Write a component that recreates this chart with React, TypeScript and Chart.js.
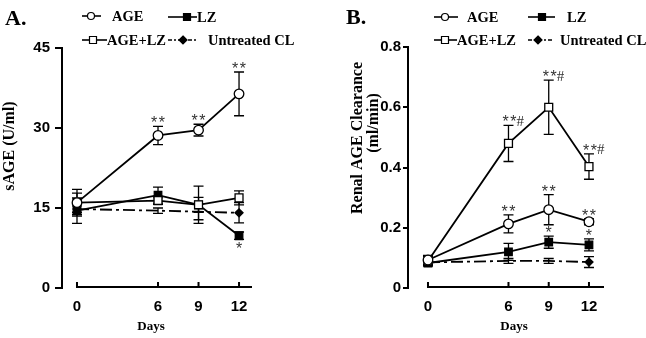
import React, { useEffect, useRef } from "react";
import { Chart, registerables } from "chart.js";

Chart.register(...registerables);

// ---------------- data ----------------
const days = [0, 6, 9, 12];
const xTicks = [0, 6, 9, 12];

// Panel A: sAGE (U/ml)
const aTicks = [0, 15, 30, 45];
const aAge = [16.0, 28.6, 29.6, 36.4];
const aAgeErr = [2.5, 1.7, 1.1, 4.1];
const aLz = [14.5, 17.4, 15.6, 9.8];
const aLzErr = [2.4, 1.5, 1.4, 0.7];
const aAgeLz = [16.0, 16.4, 15.6, 16.9];
const aAgeLzErr = [1.8, 0.7, 3.5, 1.3];
const aCtrl = [14.8, 14.5, 14.3, 14.1];
const aCtrlErr = [1.0, 0.5, 1.5, 1.9];
const aAgeMarks = ["", "**", "**", "**"];
const aLzMarks = ["", "", "", "*"];

// Panel B: Renal AGE Clearance (ml/min)
const bTicks = [0, 0.2, 0.4, 0.6, 0.8];
const bAge = [0.093, 0.213, 0.26, 0.22];
const bAgeErr = [0.015, 0.03, 0.05, 0.01];
const bLz = [0.083, 0.12, 0.152, 0.143];
const bLzErr = [0.01, 0.028, 0.02, 0.02];
const bAgeLz = [0.09, 0.48, 0.6, 0.403];
const bAgeLzErr = [0.015, 0.06, 0.09, 0.042];
const bCtrl = [0.085, 0.09, 0.09, 0.086];
const bCtrlErr = [0.01, 0.008, 0.008, 0.018];
const bAgeLzMarks = ["", "**#", "**#", "**#"];
const bAgeMarks = ["", "**", "**", "**"];
const bLzMarks = ["", "", "*", "*"];

// ---------------- styles ----------------
const W = 323;
const H = 338;
const SERIF = '"Liberation Serif", "Times New Roman", serif';
const SANS = '"Liberation Sans", Arial, sans-serif';

const STYLE: Record<string, any> = {
  "AGE": { pointStyle: "circle", radius: 4.8, fill: "#fff", dash: [], legendDash: [] },
  "LZ": { pointStyle: "rect", radius: 5.3, fill: "#000", dash: [], legendDash: [] },
  "AGE+LZ": { pointStyle: "rect", radius: 5.6, fill: "#fff", dash: [], legendDash: [] },
  "Untreated CL": { pointStyle: "rectRot", radius: 4, fill: "#000", dash: [12, 4, 3, 4], legendDash: [4, 2, 2, 2] },
};

function makeDataset(name: string, values: number[], errs: number[], above?: string[], below?: string[], radii?: number[]) {
  const st = STYLE[name];
  return {
    label: name,
    data: days.map((d, i) => ({ x: d, y: values[i] })),
    errors: errs,
    marksAbove: above,
    marksBelow: below,
    borderColor: "#000",
    borderWidth: 1.8,
    borderDash: st.dash,
    pointStyle: st.pointStyle,
    pointRadius: radii || st.radius,
    pointBackgroundColor: st.fill,
    pointBorderColor: "#000",
    pointBorderWidth: 1.3,
    tension: 0,
    fill: false,
    clip: false,
  };
}

function drawMarker(ctx: CanvasRenderingContext2D, style: string, x: number, y: number, r: number, fill: string) {
  ctx.save();
  ctx.setLineDash([]);
  ctx.beginPath();
  if (style === "circle") ctx.arc(x, y, r, 0, Math.PI * 2);
  else if (style === "rect") ctx.rect(x - r, y - r, 2 * r, 2 * r);
  else {
    ctx.moveTo(x, y - r);
    ctx.lineTo(x + r, y);
    ctx.lineTo(x, y + r);
    ctx.lineTo(x - r, y);
    ctx.closePath();
  }
  ctx.fillStyle = fill;
  ctx.fill();
  ctx.lineWidth = 1.2;
  ctx.strokeStyle = "#000";
  ctx.stroke();
  ctx.restore();
}

function drawMark(ctx: CanvasRenderingContext2D, text: string, x: number, base: number) {
  const stars = text.replace(/[^*]/g, "");
  const rest = text.slice(stars.length);
  ctx.font = `16px ${SANS}`;
  const one = ctx.measureText("*").width;
  const gap = 1.5;
  const sw = stars.length * one + (stars.length - 1) * gap;
  const start = x - sw / 2 + (rest ? 1 : 0);
  ctx.fillStyle = "#333";
  ctx.textAlign = "left";
  ctx.textBaseline = "alphabetic";
  for (let k = 0; k < stars.length; k++) {
    ctx.fillText("*", start + k * (one + gap), base);
  }
  if (rest) {
    ctx.font = `15px ${SERIF}`;
    ctx.fillText(rest, start + sw, base - 1.5);
  }
}

function decor(spec: any) {
  return {
    id: "decor",
    beforeDatasetsDraw(chart: any) {
      const ctx: CanvasRenderingContext2D = chart.ctx;
      const ys = chart.scales.y;
      ctx.save();
      ctx.strokeStyle = "#000";
      ctx.lineWidth = 1.3;
      ctx.setLineDash([]);
      chart.data.datasets.forEach((ds: any, i: number) => {
        const meta = chart.getDatasetMeta(i);
        ds.data.forEach((p: any, j: number) => {
          const e = ds.errors[j];
          const x = meta.data[j].x;
          const t = ys.getPixelForValue(p.y + e);
          const b = ys.getPixelForValue(p.y - e);
          ctx.beginPath();
          ctx.moveTo(x, t);
          ctx.lineTo(x, b);
          ctx.moveTo(x - 5, t);
          ctx.lineTo(x + 5, t);
          ctx.moveTo(x - 5, b);
          ctx.lineTo(x + 5, b);
          ctx.stroke();
        });
      });
      ctx.restore();
    },
    afterDraw(chart: any) {
      const ctx: CanvasRenderingContext2D = chart.ctx;
      const xs = chart.scales.x;
      const ys = chart.scales.y;
      const area = chart.chartArea;
      ctx.save();
      // custom x axis line with upward ticks
      const yb = area.bottom - 1;
      ctx.strokeStyle = "#000";
      ctx.lineWidth = 2;
      ctx.setLineDash([]);
      ctx.beginPath();
      ctx.moveTo(xs.getPixelForValue(0) - 1, yb);
      ctx.lineTo(area.right, yb);
      xTicks.forEach((v) => {
        const px = xs.getPixelForValue(v);
        ctx.moveTo(px, yb);
        ctx.lineTo(px, yb - 5);
      });
      ctx.stroke();

      // significance annotations
      chart.data.datasets.forEach((ds: any) => {
        ds.data.forEach((p: any, j: number) => {
          const x = xs.getPixelForValue(p.x);
          const e = ds.errors[j];
          if (ds.marksAbove && ds.marksAbove[j]) {
            drawMark(ctx, ds.marksAbove[j], x, ys.getPixelForValue(p.y + e) + 2);
          }
          if (ds.marksBelow && ds.marksBelow[j]) {
            drawMark(ctx, ds.marksBelow[j], x, ys.getPixelForValue(p.y - e) + 15);
          }
        });
      });

      ctx.fillStyle = "#000";
      // panel label
      ctx.font = `bold 22px ${SERIF}`;
      ctx.textAlign = "left";
      ctx.textBaseline = "alphabetic";
      ctx.fillText(spec.label, spec.labelX, spec.labelY);

      // y titles
      ctx.font = `bold 16px ${SERIF}`;
      spec.yTitles.forEach((t: any) => {
        ctx.save();
        ctx.translate(t.x, t.y);
        ctx.rotate(-Math.PI / 2);
        ctx.textAlign = "center";
        ctx.textBaseline = "middle";
        ctx.fillText(t.text, 0, 0);
        ctx.restore();
      });

      // x title
      ctx.font = `bold 13px ${SERIF}`;
      ctx.textAlign = "center";
      ctx.textBaseline = "alphabetic";
      ctx.fillText("Days", spec.xTitleX, spec.xTitleY);

      // legend
      spec.legend.forEach((it: any) => {
        const st = STYLE[it.name];
        ctx.save();
        ctx.strokeStyle = "#000";
        ctx.lineWidth = 1.6;
        ctx.setLineDash(st.legendDash);
        ctx.beginPath();
        ctx.moveTo(it.x0, it.ly);
        ctx.lineTo(it.x1, it.ly);
        ctx.stroke();
        ctx.restore();
        const r = st.pointStyle === "rectRot" ? 4 : 3.5;
        drawMarker(ctx, st.pointStyle, it.mx, it.ly, r, st.fill);
        ctx.fillStyle = "#000";
        ctx.font = `bold 14.5px ${SERIF}`;
        ctx.textAlign = "left";
        ctx.textBaseline = "alphabetic";
        ctx.fillText(it.name, it.tx, it.tb);
      });
      ctx.restore();
    },
  };
}

const panelA = {
  label: "A.",
  labelX: 5,
  labelY: 25,
  yTitles: [{ text: "sAGE (U/ml)", x: 10, y: 146 }],
  xTitleX: 151,
  xTitleY: 330,
  area: { left: 62, right: 252, top: 48, bottom: 288 },
  xMin: -1.11,
  xMax: 12.96,
  yMax: 45,
  yTicks: aTicks,
  tickLen: 7,
  tickPad: 5,
  legend: [
    { name: "AGE", x0: 82, x1: 101, mx: 91, ly: 16, tx: 112, tb: 21 },
    { name: "LZ", x0: 168, x1: 197, mx: 187, ly: 17, tx: 197, tb: 22 },
    { name: "AGE+LZ", x0: 82, x1: 107, mx: 93, ly: 40, tx: 107, tb: 45 },
    { name: "Untreated CL", x0: 168, x1: 198, mx: 183, ly: 40, tx: 208, tb: 45 },
  ],
  datasets: [
    makeDataset("AGE", aAge, aAgeErr, aAgeMarks),
    makeDataset("AGE+LZ", aAgeLz, aAgeLzErr),
    makeDataset("LZ", aLz, aLzErr, undefined, aLzMarks),
    makeDataset("Untreated CL", aCtrl, aCtrlErr, undefined, undefined, [4, 0, 0, 4]),
  ],
};

const panelB = {
  label: "B.",
  labelX: 23,
  labelY: 24,
  yTitles: [
    { text: "Renal AGE Clearance", x: 35, y: 138 },
    { text: "(ml/min)", x: 51, y: 123 },
  ],
  xTitleX: 191,
  xTitleY: 330,
  area: { left: 85, right: 281, top: 47, bottom: 288 },
  xMin: -1.49,
  xMax: 13.12,
  yMax: 0.8,
  yTicks: bTicks,
  tickLen: 5,
  tickPad: 2,
  legend: [
    { name: "AGE", x0: 111, x1: 135, mx: 122, ly: 17, tx: 144, tb: 22 },
    { name: "LZ", x0: 205, x1: 232, mx: 219, ly: 17, tx: 244, tb: 22 },
    { name: "AGE+LZ", x0: 111, x1: 134, mx: 122, ly: 40, tx: 134, tb: 45 },
    { name: "Untreated CL", x0: 205, x1: 230, mx: 215, ly: 40, tx: 237, tb: 45 },
  ],
  datasets: [
    makeDataset("AGE", bAge, bAgeErr, bAgeMarks),
    makeDataset("AGE+LZ", bAgeLz, bAgeLzErr, bAgeLzMarks),
    makeDataset("LZ", bLz, bLzErr, bLzMarks),
    makeDataset("Untreated CL", bCtrl, bCtrlErr, undefined, undefined, [4, 0, 0, 4]),
  ],
};

function Panel({ spec }: { spec: any }) {
  const ref = useRef<HTMLCanvasElement>(null);
  useEffect(() => {
    const canvas = ref.current as HTMLCanvasElement;
    const tickFont = { family: SANS, size: 15, weight: "bold" as const };
    const chart = new Chart(canvas, {
      type: "line",
      data: { datasets: spec.datasets as any },
      options: {
        responsive: false,
        animation: false,
        devicePixelRatio: 1,
        layout: { padding: { left: 0, top: spec.area.top, right: W - spec.area.right, bottom: 0 } },
        plugins: { legend: { display: false }, tooltip: { enabled: false }, title: { display: false } },
        scales: {
          x: {
            type: "linear",
            min: spec.xMin,
            max: spec.xMax,
            afterBuildTicks: (s: any) => {
              s.ticks = xTicks.map((v) => ({ value: v }));
            },
            afterFit: (s: any) => {
              s.height = H - spec.area.bottom;
            },
            grid: { display: false, drawTicks: false },
            border: { display: false },
            ticks: { font: tickFont, color: "#000", padding: 10, maxRotation: 0, autoSkip: false, callback: (v: any) => String(v) },
          },
          y: {
            type: "linear",
            min: 0,
            max: spec.yMax,
            afterBuildTicks: (s: any) => {
              s.ticks = spec.yTicks.map((v: number) => ({ value: v }));
            },
            afterFit: (s: any) => {
              s.width = spec.area.left;
            },
            grid: { drawOnChartArea: false, drawTicks: true, tickLength: spec.tickLen, color: "#000", lineWidth: 2 },
            border: { display: true, color: "#000", width: 2 },
            ticks: { font: tickFont, color: "#000", padding: spec.tickPad, autoSkip: false, callback: (v: any) => String(v) },
          },
        },
      } as any,
      plugins: [decor(spec)],
    });
    return () => chart.destroy();
  }, [spec]);
  return <canvas ref={ref} width={W} height={H} style={{ display: "block", width: W, height: H }} />;
}

export default function App() {
  return (
    <div style={{ position: "absolute", left: 0, top: 0, width: 646, height: 338, background: "#fff", display: "flex" }}>
      <Panel spec={panelA} />
      <Panel spec={panelB} />
    </div>
  );
}
